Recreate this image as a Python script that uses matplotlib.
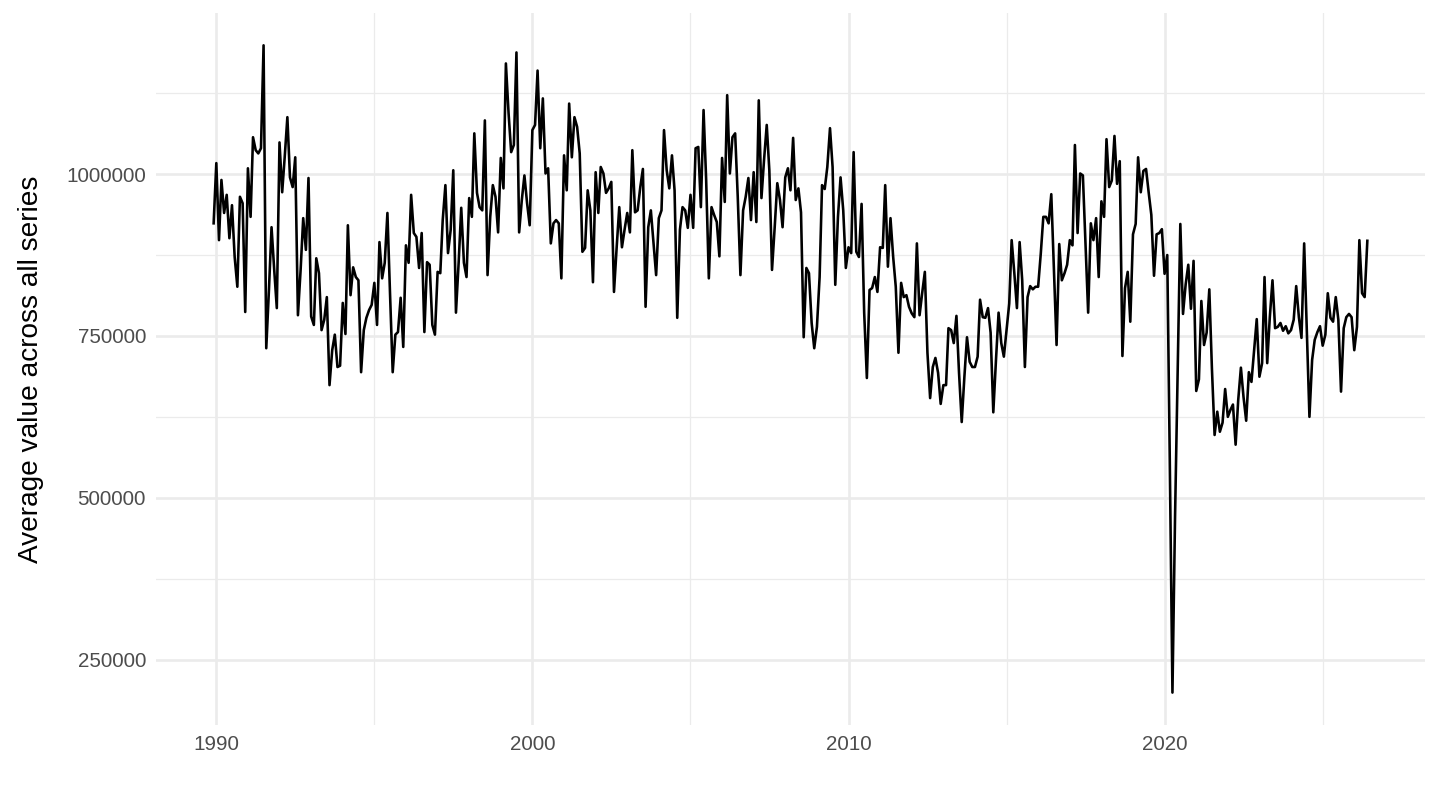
import numpy as np
import pandas as pd
import matplotlib
matplotlib.use("Agg")
import matplotlib.pyplot as plt
import matplotlib.dates as mdates
from matplotlib.ticker import MultipleLocator, FuncFormatter

plt.rcParams['font.family'] = ['Liberation Sans', 'DejaVu Sans']

# monthly average (thousands), starting Dec 1989
avg_k = [
    924,
    1017, 898, 991, 940, 968, 901, 952, 872, 826, 965, 955, 787,       # 1990
    1009, 934, 1057, 1037, 1032, 1040, 1199, 731, 821, 918, 852, 793,  # 1991
    1049, 972, 1026, 1088, 995, 980, 1026, 782, 852, 932, 883, 994,    # 1992
    780, 767, 870, 847, 759, 775, 810, 674, 728, 752, 702, 704,        # 1993
    801, 753, 921, 813, 856, 841, 836, 694, 759, 778, 790, 798,        # 1994
    832, 767, 895, 839, 863, 940, 816, 694, 752, 756, 809, 733,        # 1995
    890, 863, 968, 909, 903, 855, 909, 756, 864, 860, 767, 752,        # 1996
    849, 847, 929, 983, 878, 914, 1006, 786, 863, 948, 863, 841,       # 1997
    963, 934, 1063, 971, 949, 944, 1083, 844, 934, 983, 965, 910,      # 1998
    1025, 978, 1171, 1094, 1034, 1045, 1188, 910, 960, 998, 955, 921,  # 1999
    1068, 1076, 1160, 1040, 1117, 1001, 1009, 893, 924, 929, 924, 839, # 2000
    1029, 975, 1109, 1026, 1088, 1073, 1032, 880, 886, 975, 944, 833,  # 2001
    1003, 940, 1011, 1001, 971, 978, 988, 818, 887, 949, 887, 914,     # 2002
    940, 910, 1037, 941, 944, 980, 1008, 795, 918, 944, 893, 844,      # 2003
    932, 944, 1068, 1006, 978, 1029, 975, 778, 914, 949, 944, 917,     # 2004
    968, 917, 1040, 1042, 949, 1099, 991, 839, 949, 937, 926, 873,     # 2005
    1025, 957, 1122, 1001, 1057, 1063, 965, 844, 944, 965, 994, 929,   # 2006
    1003, 926, 1114, 963, 1022, 1076, 1006, 852, 918, 986, 960, 918,   # 2007
    995, 1009, 975, 1056, 960, 978, 941, 748, 855, 847, 770, 731,      # 2008
    764, 841, 983, 977, 1011, 1071, 1011, 829, 934, 995, 944, 855,     # 2009
    887, 878, 1034, 880, 872, 954, 786, 685, 821, 824, 841, 818,       # 2010
    887, 886, 983, 857, 932, 872, 826, 724, 832, 810, 813, 795,        # 2011
    785, 779, 893, 782, 816, 849, 724, 654, 702, 716, 693, 645,        # 2012
    674, 674, 762, 759, 739, 781, 693, 617, 687, 748, 710, 702,        # 2013
    702, 718, 806, 779, 778, 793, 755, 632, 713, 786, 739, 718,        # 2014
    759, 800, 898, 847, 793, 895, 836, 702, 810, 827, 822, 826,        # 2015
    826, 878, 934, 934, 924, 969, 852, 736, 892, 836, 847, 860,        # 2016
    898, 890, 1045, 909, 1001, 998, 893, 786, 924, 898, 932, 841,      # 2017
    958, 934, 1054, 980, 990, 1059, 985, 1020, 719, 824, 849, 772,     # 2018
    907, 923, 1026, 972, 1005, 1008, 972, 937, 843, 907, 909, 915,     # 2019
    846, 875, 560, 199, 470, 700, 923, 784, 830, 860, 792, 866,        # 2020
    665, 683, 804, 736, 755, 822, 700, 597, 633, 602, 616, 668,        # 2021
    625, 636, 644, 582, 651, 701, 656, 619, 694, 679, 728, 776,        # 2022
    687, 708, 841, 708, 779, 836, 762, 764, 770, 758, 765, 754,        # 2023
    759, 775, 827, 779, 747, 893, 760, 625, 713, 744, 756, 765,        # 2024
    735, 752, 816, 778, 772, 810, 775, 664, 762, 779, 784, 779,        # 2025
    728, 764, 898, 816, 810, 897,                                      # 2026
]
avg_value = np.array(avg_k) * 1000
dates = pd.date_range("1989-12-01", periods=len(avg_value), freq="MS")

fig = plt.figure(figsize=(10, 5.625), dpi=144)
ax = fig.add_axes([0.1083, 0.105, 0.8813, 0.879])

ax.plot(dates, avg_value, color="black", lw=1.3, zorder=3)

# ggplot-like 5% expansion
span = dates[-1] - dates[0]
ax.set_xlim(dates[0] - 0.05 * span, dates[-1] + 0.05 * span)
yr = avg_value.max() - avg_value.min()
ax.set_ylim(avg_value.min() - 0.05 * yr, avg_value.max() + 0.05 * yr)

ax.xaxis.set_major_locator(mdates.YearLocator(10))
ax.xaxis.set_minor_locator(mdates.YearLocator(5))
ax.xaxis.set_major_formatter(mdates.DateFormatter("%Y"))
ax.yaxis.set_major_locator(MultipleLocator(250000))
ax.yaxis.set_minor_locator(MultipleLocator(125000))
ax.yaxis.set_major_formatter(FuncFormatter(lambda v, p: "%d" % v))

ax.grid(which="major", color="#EBEBEB", lw=1.3)
ax.grid(which="minor", color="#EBEBEB", lw=0.65)
ax.set_axisbelow(True)
for s in ax.spines.values():
    s.set_visible(False)
ax.tick_params(which="both", length=0, labelsize=10.3, labelcolor="#4D4D4D", pad=5)

ax.set_ylabel("Average value across all series", fontsize=14, labelpad=11)

fig.savefig("out.png", dpi=144, facecolor="white")
